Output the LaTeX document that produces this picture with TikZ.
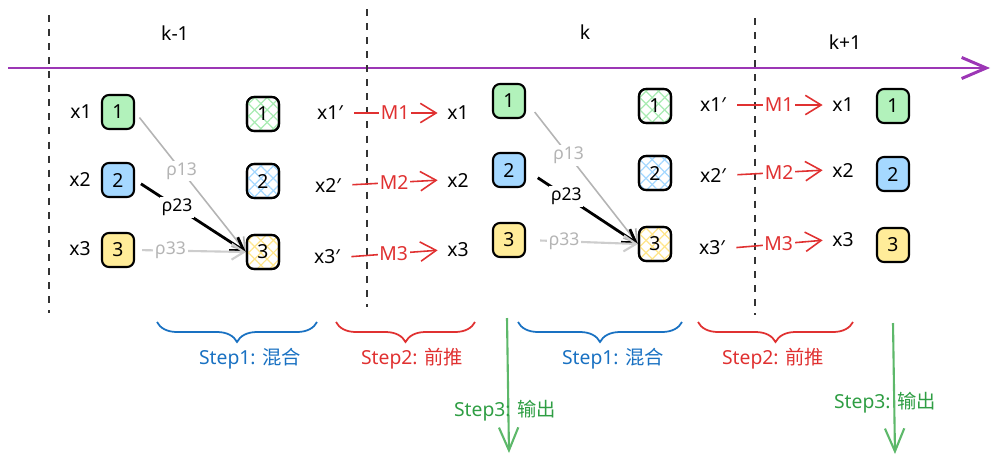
\documentclass[tikz,border=0pt]{standalone}
\usepackage{fontspec}
\setmainfont{Noto Sans}
\newfontfamily\cjk{Noto Sans CJK SC}
\usetikzlibrary{arrows.meta,patterns.meta,decorations.pathreplacing}
\definecolor{vio}{HTML}{9C36B5}
\definecolor{redline}{HTML}{E03131}
\definecolor{blueline}{HTML}{1971C2}
\definecolor{greenline}{HTML}{2F9E44}
\definecolor{greenarr}{HTML}{5DB86A}
\definecolor{gfill}{HTML}{B2F2BB}
\definecolor{bfill}{HTML}{A5D8FF}
\definecolor{yfill}{HTML}{FFEC99}
\definecolor{ghatch}{HTML}{A8EBB2}
\definecolor{bhatch}{HTML}{A5D8FF}
\definecolor{yhatch}{HTML}{FFE58A}
\definecolor{rhomid}{HTML}{B4B4B4}
\definecolor{rholow}{HTML}{CDCDCD}
\begin{document}
\begin{tikzpicture}[x=0.02cm,y=-0.02cm,
    font=\fontsize{11}{13}\selectfont,
    cell/.style={draw=black,line width=1.2pt,rounded corners=4pt,minimum width=0.64cm,minimum height=0.68cm,inner sep=0pt,fill=#1},
    mixcell/.style={draw=black,line width=1.2pt,rounded corners=4pt,minimum width=0.64cm,minimum height=0.68cm,inner sep=0pt,
      pattern={Lines[angle=45,distance=5pt,line width=0.7pt]},pattern color=#1,
      postaction={pattern={Lines[angle=-45,distance=5pt,line width=0.7pt]},pattern color=#1},
      postaction={draw=black,line width=1.2pt}},
    fwd/.style={draw=redline,line width=0.9pt,-{Straight Barb[length=9pt,width=11pt,line width=0.9pt]},shorten >=2pt,shorten <=3pt},
    mlab/.style={fill=white,inner sep=1pt,text=redline},
    rho/.style={line width=#1,-{Straight Barb[length=7pt,width=9pt]}},
    rlab/.style={fill=white,inner sep=1pt,font=\fontsize{10}{12}\selectfont},
    sep/.style={black!80,line width=0.7pt,dash pattern=on 4pt off 4pt},
    stepbrace/.style={decorate,decoration={brace,mirror,amplitude=0.4cm},line width=1pt,#1},
    outarr/.style={draw=greenarr,line width=1.2pt,-{Straight Barb[length=13pt,width=11pt,line width=1.2pt]}}
  ]
  \useasboundingbox (0,0) rectangle (1000,464);

  \coordinate (t0) at (8,68);
  \coordinate (t1) at (990,68);
  \draw[vio,line width=1.7pt,-{Straight Barb[length=14pt,width=12pt,line width=1.7pt]}] (t0) -- (t1);

  \coordinate (s1a) at (49,15);  \coordinate (s1b) at (49,313);
  \coordinate (s2a) at (367,9);  \coordinate (s2b) at (367,307);
  \coordinate (s3a) at (755,18); \coordinate (s3b) at (755,315);
  \draw[sep] (s1a) -- (s1b);
  \draw[sep] (s2a) -- (s2b);
  \draw[sep] (s3a) -- (s3b);

  \node (kprev) at (175,33) {k-1};
  \node (kcur) at (585,32) {k};
  \node (knext) at (845,42) {k+1};

  % step k-1
  \node (lx1) at (81,112) {x1};
  \node (lx2) at (80,179) {x2};
  \node (lx3) at (80,249) {x3};
  \node[cell=gfill] (a1) at (118,112) {1};
  \node[cell=bfill] (a2) at (118,180) {2};
  \node[cell=yfill] (a3) at (118,250) {3};
  \node[mixcell=ghatch] (am1) at (263,114) {1};
  \node[mixcell=bhatch] (am2) at (263,181) {2};
  \node[mixcell=yhatch] (am3) at (263,252) {3};
  \draw[rho=0.9pt,rhomid,shorten <=4pt] (a1.east) -- node[rlab,pos=0.42,text=rhomid] {ρ13} (am3.west);
  \draw[rho=1.6pt,black,shorten <=4pt] (a2.east) -- node[rlab,pos=0.38] {ρ23} (am3.west);
  \draw[rho=1.2pt,rholow,shorten <=4pt] (a3.east) -- node[rlab,pos=0.32,text=rhomid] {ρ33} (am3.west);

  \node (ap1) at (330,113) {x1′};
  \node (ap2) at (328,185) {x2′};
  \node (ap3) at (327,257) {x3′};
  \node (an1) at (458,113) {x1};
  \node (an2) at (458,180) {x2};
  \node (an3) at (458,250) {x3};
  \draw[fwd] (ap1.east) -- node[mlab] {M1} (an1.west);
  \draw[fwd] (ap2.east) -- node[mlab] {M2} (an2.west);
  \draw[fwd] (ap3.east) -- node[mlab] {M3} (an3.west);

  % step k
  \node[cell=gfill] (b1) at (509,101) {1};
  \node[cell=bfill] (b2) at (509,170) {2};
  \node[cell=yfill] (b3) at (509,240) {3};
  \node[mixcell=ghatch] (bm1) at (655,106) {1};
  \node[mixcell=bhatch] (bm2) at (655,173) {2};
  \node[mixcell=yhatch] (bm3) at (655,244) {3};
  \draw[rho=0.9pt,rhomid,shorten <=8pt] (b1.east) -- node[rlab,pos=0.38,text=rhomid] {ρ13} (bm3.west);
  \draw[rho=1.6pt,black,shorten <=8pt] (b2.east) -- node[rlab,pos=0.36] {ρ23} (bm3.west);
  \draw[rho=1.2pt,rholow,shorten <=8pt] (b3.east) -- node[rlab,pos=0.34,text=rhomid] {ρ33} (bm3.west);

  \node (bp1) at (713,105) {x1′};
  \node (bp2) at (713,175) {x2′};
  \node (bp3) at (712,248) {x3′};
  \node (bn1) at (843,105) {x1};
  \node (bn2) at (843,170) {x2};
  \node (bn3) at (843,240) {x3};
  \draw[fwd] (bp1.east) -- node[mlab] {M1} (bn1.west);
  \draw[fwd] (bp2.east) -- node[mlab] {M2} (bn2.west);
  \draw[fwd] (bp3.east) -- node[mlab] {M3} (bn3.west);

  % step k+1
  \node[cell=gfill] (c1) at (893,106) {1};
  \node[cell=bfill] (c2) at (893,174) {2};
  \node[cell=yfill] (c3) at (893,245) {3};

  % steps
  \coordinate (u1a) at (157,322); \coordinate (u1b) at (317,322);
  \coordinate (u2a) at (336,322); \coordinate (u2b) at (475,322);
  \coordinate (u3a) at (518,322); \coordinate (u3b) at (682,322);
  \coordinate (u4a) at (698,322); \coordinate (u4b) at (853,322);
  \draw[stepbrace=blueline] (u1a) -- (u1b);
  \draw[stepbrace=redline] (u2a) -- (u2b);
  \draw[stepbrace=blueline] (u3a) -- (u3b);
  \draw[stepbrace=redline] (u4a) -- (u4b);
  \node[text=blueline] (mix1) at (250,359) {Step1: {\cjk 混合}};
  \node[text=redline] (push1) at (412,359) {Step2: {\cjk 前推}};
  \node[text=blueline] (mix2) at (613,359) {Step1: {\cjk 混合}};
  \node[text=redline] (push2) at (773,359) {Step2: {\cjk 前推}};

  \coordinate (o1a) at (507,318); \coordinate (o1b) at (509,453);
  \coordinate (o2a) at (893,323); \coordinate (o2b) at (895,454);
  \draw[outarr] (o1a) -- (o1b);
  \draw[outarr] (o2a) -- (o2b);
  \node[text=greenline] (out1) at (505,411) {Step3: {\cjk 输出}};
  \node[text=greenline] (out2) at (885,403) {Step3: {\cjk 输出}};
\end{tikzpicture}
\end{document}
